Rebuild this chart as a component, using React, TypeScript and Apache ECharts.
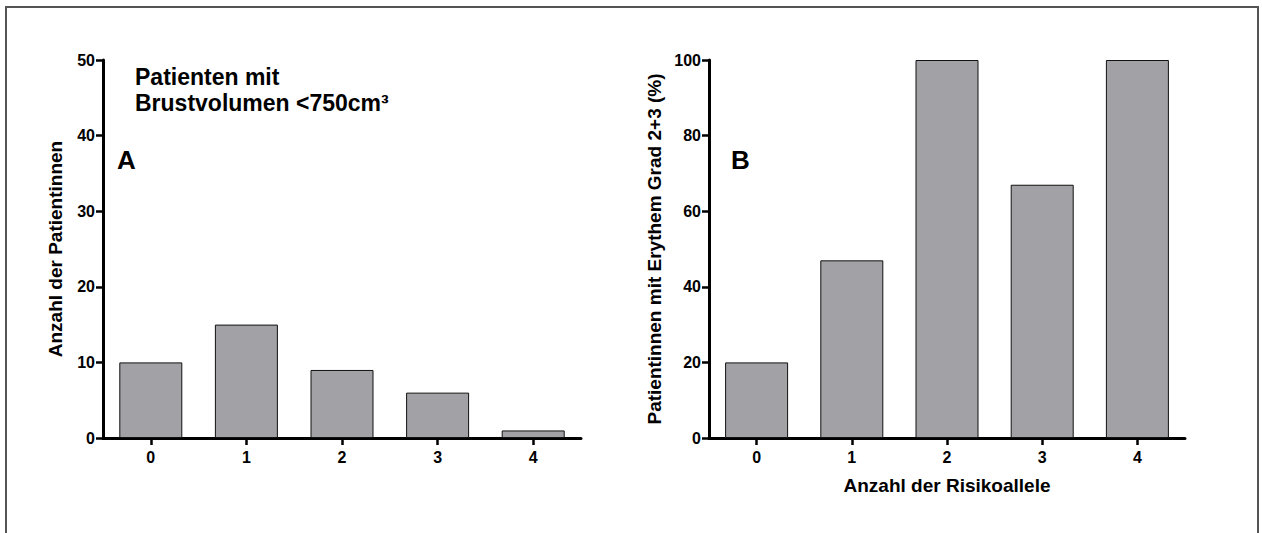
import React, { useEffect, useRef } from "react";
import * as echarts from "echarts";

const categories = ["0", "1", "2", "3", "4"];
const countsA = [10, 15, 9, 6, 1];
const percentB = [20, 47, 100, 67, 100];
const yTicksA = { min: 0, max: 50, interval: 10 };
const yTicksB = { min: 0, max: 100, interval: 20 };

const FONT = "'Liberation Sans', Arial, sans-serif";
const BAR_COLOR = "#a2a1a6";

export default function App() {
  const ref = useRef<HTMLDivElement>(null);
  useEffect(() => {
    document.body.style.margin = "0";
    const chart = echarts.init(ref.current!, null, { renderer: "svg" });
    const axisLabel = { color: "#000", fontFamily: FONT, fontWeight: "bold", fontSize: 16, margin: 8 };
    const axisLine = { show: true, lineStyle: { color: "#000", width: 3 } };
    const axisTick = { show: true, length: 7, lineStyle: { color: "#000", width: 2.5 } };
    const nameStyle = { color: "#000", fontFamily: FONT, fontWeight: "bold", fontSize: 19 };
    const mkX = (gi: number, name: string) => ({
      type: "category",
      gridIndex: gi,
      data: categories,
      axisLine,
      axisTick: { ...axisTick, alignWithLabel: true },
      axisLabel: { ...axisLabel, margin: 11 },
      name,
      nameLocation: "middle",
      nameGap: 38,
      nameTextStyle: nameStyle,
    });
    const mkY = (gi: number, t: any, name: string, gap: number) => ({
      type: "value",
      gridIndex: gi,
      min: t.min,
      max: t.max,
      interval: t.interval,
      axisLine,
      axisTick,
      axisLabel,
      splitLine: { show: false },
      name,
      nameLocation: "middle",
      nameGap: gap,
      nameTextStyle: nameStyle,
    });
    const barStyle = { color: BAR_COLOR, borderColor: "#111", borderWidth: 1 };
    chart.setOption({
      animation: false,
      backgroundColor: "#fff",
      grid: [
        { left: 103, top: 60, width: 478, height: 378 },
        { left: 709, top: 60, width: 476, height: 378 },
      ],
      xAxis: [mkX(0, ""), mkX(1, "Anzahl der Risikoallele")],
      yAxis: [
        mkY(0, yTicksA, "Anzahl der Patientinnen", 38),
        mkY(1, yTicksB, "Patientinnen mit Erythem Grad 2+3 (%)", 45),
      ],
      series: [
        { type: "bar", xAxisIndex: 0, yAxisIndex: 0, data: countsA, barWidth: 63, itemStyle: barStyle },
        { type: "bar", xAxisIndex: 1, yAxisIndex: 1, data: percentB, barWidth: 63, itemStyle: barStyle },
      ],
      graphic: [
        {
          type: "rect",
          shape: { x: 6, y: 7, width: 1252, height: 540 },
          style: { fill: "none", stroke: "#555", lineWidth: 2 },
          silent: true,
        },
        {
          type: "text",
          x: 135,
          y: 64,
          style: {
            text: "Patienten mit\nBrustvolumen <750cm³",
            font: `bold 23px ${FONT}`,
            fill: "#000",
            lineHeight: 26,
          },
        },
        { type: "text", x: 117, y: 147, style: { text: "A", font: `bold 26px ${FONT}`, fill: "#000" } },
        { type: "text", x: 731, y: 147, style: { text: "B", font: `bold 26px ${FONT}`, fill: "#000" } },
      ],
    });
    return () => chart.dispose();
  }, []);
  return <div ref={ref} style={{ position: "fixed", left: 0, top: 0, width: 1262, height: 533 }} />;
}
